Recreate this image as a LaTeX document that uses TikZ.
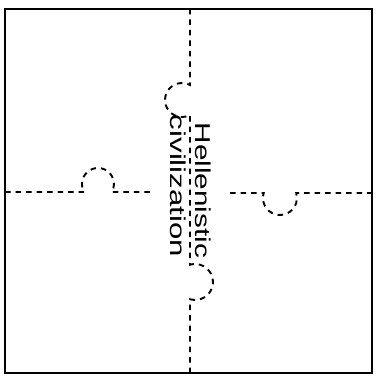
\documentclass[tikz,border=0pt]{standalone}
\usepackage{fontspec}
\setmainfont{Liberation Sans}
\begin{document}
\begin{tikzpicture}[x=1pt,y=1pt,
  cut/.style={line width=1.9pt, dash pattern=on 5.5pt off 5pt},
  frame/.style={line width=2.6pt},
  lbl/.style={rotate=-90, anchor=base, inner sep=0pt, font=\fontsize{21.5}{21.5}\selectfont}]
\useasboundingbox (0,0) rectangle (381,377);
\draw[frame] (5,4) rectangle (372,368);
% vertical cut with two knobs
\coordinate (vtop) at (190,368);
\coordinate (vbot) at (190,4);
\draw[cut] (vtop) -- (190,292) arc[start angle=62, end angle=298, radius=17]
  -- (190,112.3) arc[start angle=106, end angle=-106, radius=18] -- (vbot);
% horizontal cut, left part
\coordinate (hl) at (5,185);
\coordinate (hlend) at (152,185);
\draw[cut] (hl) -- (84.1,185) arc[start angle=210, end angle=-30, radius=16] -- (hlend);
% horizontal cut, right part
\coordinate (hr) at (230,184);
\coordinate (hrend) at (372,184);
\draw[cut] (hr) -- (263.7,184) arc[start angle=163, end angle=377, radius=17] -- (hrend);
% labels
\node[lbl] (hell) at (195,186.5) {\scalebox{1.38}[1]{Hellenistic}};
\node[lbl] (civ) at (170,191) {\scalebox{1.45}[1]{civilization}};
\end{tikzpicture}
\end{document}
